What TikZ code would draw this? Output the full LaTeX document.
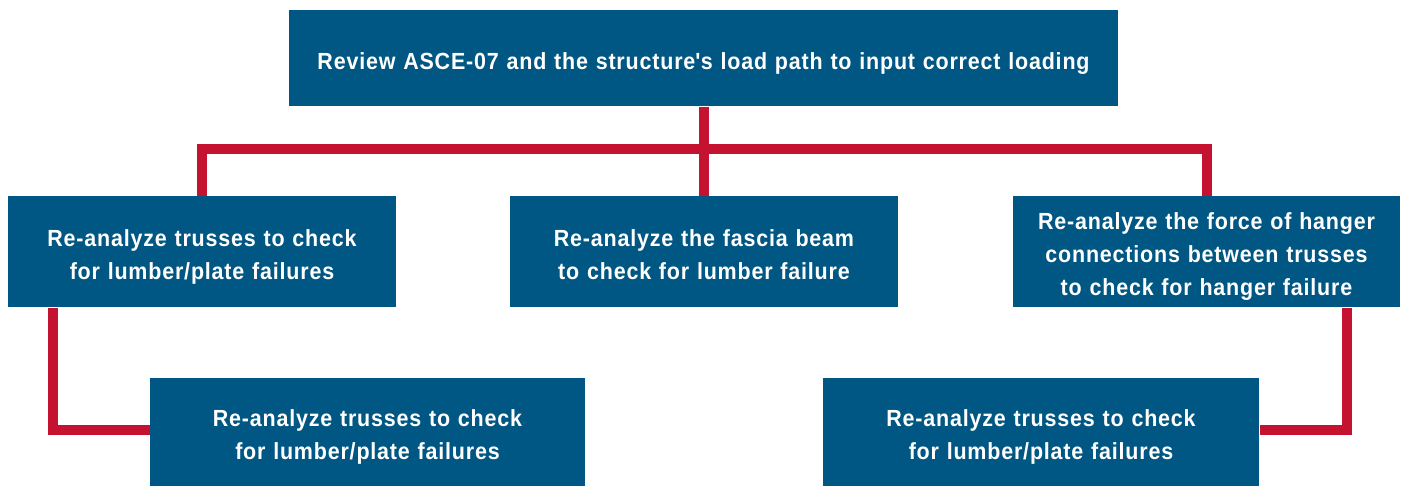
\documentclass[tikz,border=0pt]{standalone}
\usepackage{fontspec}
\setmainfont{Liberation Sans}[FakeStretch=0.92, LetterSpace=3.5]
\usetikzlibrary{positioning}

\definecolor{boxblue}{RGB}{1,87,131}
\definecolor{linkred}{RGB}{196,18,48}

\tikzset{every picture/.style={line width=0.75pt}}
\tikzset{
  stepbox/.style={fill=boxblue, draw=none, text=white, align=center, inner sep=0pt,
    text width=280pt, font=\fontsize{17.5}{24.75}\selectfont\bfseries,
    execute at begin node={\rule{0pt}{22pt}},
    execute at end node={\rule[-5pt]{0pt}{0pt}}},
  link/.style={draw=linkred, line width=7.5pt, line join=miter}
}

\begin{document}
\begin{tikzpicture}[x=0.75pt,y=0.75pt,yscale=-1,xscale=1]

\useasboundingbox (0,0) rectangle (1406,486);

%% ---------------- top ----------------
\node [stepbox, text width=600pt, minimum width=621.75pt, minimum height=72pt] (review) at (703.5,58) {Review ASCE-07 and the structure\textquotesingle s load path to input correct loading};

%% ---------------- second row ----------------
\node [stepbox, minimum width=291pt, minimum height=83.25pt] (trusses) at (202,251.5) {Re-analyze trusses to check\\for lumber/plate failures};
\node [stepbox, minimum width=291pt, minimum height=83.25pt] (fascia) at (704,251.5) {Re-analyze the fascia beam\\to check for lumber failure};
\node [stepbox, minimum width=290.25pt, minimum height=83.25pt] (hanger) at (1206.5,251.5) {Re-analyze the force of hanger\\connections between trusses\\to check for hanger failure};

%% ---------------- third row ----------------
\node [stepbox, minimum width=326.25pt, minimum height=81pt] (trussesA) at (367.5,432) {Re-analyze trusses to check\\for lumber/plate failures};
\node [stepbox, minimum width=327pt, minimum height=81pt] (trussesB) at (1041,432) {Re-analyze trusses to check\\for lumber/plate failures};

%% ---------------- connectors ----------------
\draw [link] (review.south) -- ++(0,43);
\draw [link] (trusses.north) -- ++(0,-47) -| (hanger.north);
\draw [link] (fascia.north) -- ++(0,-47);
\draw [link] ([xshift=33.75pt]trusses.south west) |- ([yshift=-1.5pt]trussesA.west);
\draw [link] ([xshift=-40.5pt]hanger.south east) |- ([yshift=-1.5pt]trussesB.east);

\end{tikzpicture}
\end{document}
